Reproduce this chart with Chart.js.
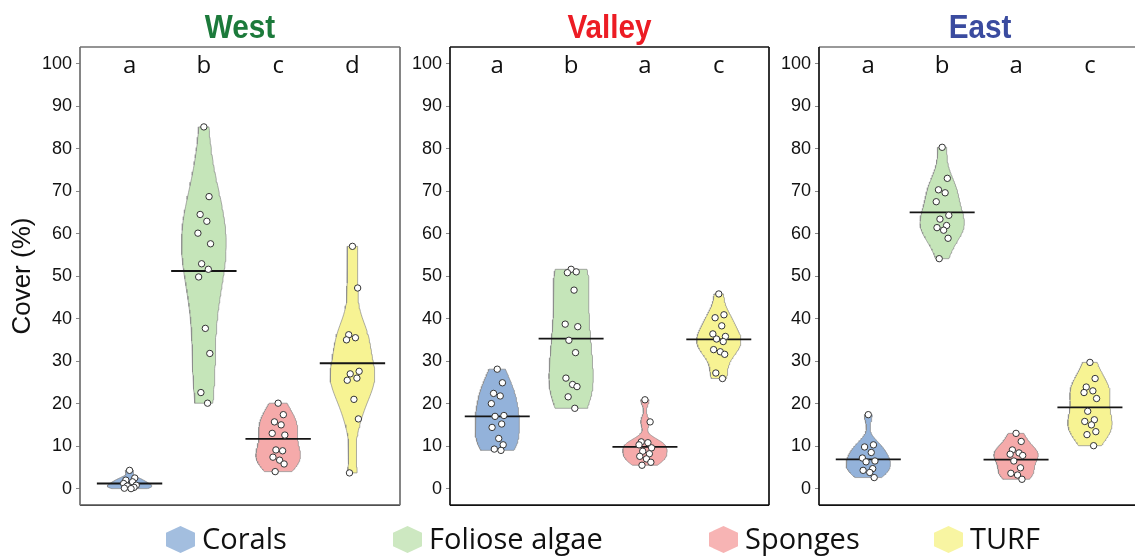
<!DOCTYPE html>
<html><head><meta charset="utf-8">
<script src="https://cdn.jsdelivr.net/npm/chart.js@4/dist/chart.umd.min.js"></script>
<style>
html,body{margin:0;padding:0;background:#fff;overflow:hidden}
#wrap{position:relative;width:1137px;height:559px;overflow:hidden;background:#fff}
canvas{position:absolute;top:0}
.leg{position:absolute;top:523px;font-family:"Open Sans";font-size:29px;line-height:29px;color:#111;white-space:nowrap}
.hex{position:absolute;top:526px;width:29px;height:27px;clip-path:polygon(50% 0,100% 25%,100% 75%,50% 100%,0 75%,0 25%)}
</style></head>
<body><div id="wrap">
<canvas id="c1" width="405" height="520" style="left:0px"></canvas>
<canvas id="c2" width="374" height="520" style="left:400px"></canvas>
<canvas id="c3" width="380" height="520" style="left:760px"></canvas>
<div id="legend"></div>
</div>
<script>
// ---------------- data ----------------
const categories = ['Corals', 'Foliose algae', 'Sponges', 'TURF'];
const regions = ['West', 'Valley', 'East'];
const yTicks = [0, 10, 20, 30, 40, 50, 60, 70, 80, 90, 100];

const westCorals   = [4.3, 2.5, 2.0, 1.6, 1.2, 0.8, 0.6, 0.3, 0.1, 0.0];
const westFoliose  = [85.1, 68.7, 64.5, 62.9, 60.1, 57.6, 52.9, 51.6, 49.8, 37.7, 31.8, 22.6, 20.1];
const westSponges  = [20.1, 17.4, 15.7, 15.0, 13.0, 12.6, 9.1, 8.9, 7.4, 6.7, 5.8, 4.0];
const westTurf     = [57.0, 47.2, 36.2, 35.5, 35.0, 27.6, 27.0, 26.0, 25.5, 21.0, 16.4, 3.7];
const westMeans    = [1.2, 51.2, 11.7, 29.5];
const westLetters  = ['a', 'b', 'c', 'd'];

const valleyCorals  = [28.1, 24.9, 22.4, 21.8, 20.0, 17.2, 17.0, 15.2, 14.4, 11.8, 10.3, 9.3, 9.0];
const valleyFoliose = [51.6, 51.0, 50.8, 46.7, 38.7, 38.1, 34.9, 32.0, 26.0, 24.5, 24.0, 21.6, 18.9];
const valleySponges = [20.9, 15.7, 11.0, 10.8, 10.3, 9.6, 8.8, 8.2, 7.6, 7.0, 6.2, 5.5];
const valleyTurf    = [45.8, 40.9, 40.2, 38.3, 36.4, 35.8, 35.2, 34.6, 32.7, 32.2, 31.6, 27.2, 25.9];
const valleyMeans   = [17.0, 35.3, 9.8, 35.1];
const valleyLetters = ['a', 'b', 'a', 'c'];

const eastCorals  = [17.4, 10.3, 9.8, 8.5, 7.2, 6.5, 6.3, 4.7, 4.3, 3.8, 2.6];
const eastFoliose = [80.3, 73.0, 70.3, 69.6, 67.5, 64.3, 63.4, 61.9, 61.4, 60.8, 58.9, 54.1];
const eastSponges = [13.0, 11.1, 9.1, 8.4, 8.1, 7.8, 6.5, 4.9, 3.6, 3.2, 2.2];
const eastTurf    = [29.7, 25.9, 23.9, 23.0, 22.6, 21.2, 18.2, 16.2, 15.8, 15.0, 13.4, 12.7, 10.1];
const eastMeans   = [6.9, 65.0, 6.8, 19.1];
const eastLetters = ['a', 'b', 'a', 'c'];

// ---------------- styles ----------------
const fillColors = ['#93b2da', '#c5e5b9', '#f5aaaa', '#f7f393'];
const legendColors = ['#a3bedf', '#cde8c1', '#f7b4b4', '#f8f5a2'];
const titleColors = ['#1c7a3b', '#ec1c24', '#3a4b9f'];
const jitter = [0.00, 0.07, -0.05, 0.04, -0.08, 0.09, -0.03, 0.06, -0.07, 0.02, 0.08, -0.04, 0.05, -0.01];

function violinOutline(vals, center) {
  const s = vals.slice().sort((a, b) => a - b);
  const n = s.length;
  const mean = s.reduce((a, b) => a + b, 0) / n;
  const sd = Math.sqrt(s.reduce((a, b) => a + (b - mean) * (b - mean), 0) / (n - 1));
  const q = p => { const h = (n - 1) * p, lo = Math.floor(h), hi = Math.ceil(h); return s[lo] + (h - lo) * (s[hi] - s[lo]); };
  const iqr = q(0.75) - q(0.25);
  let lo = Math.min(sd, iqr / 1.34);
  if (!(lo > 0)) lo = sd || 1;
  const bw = 0.9 * lo * Math.pow(n, -0.2);
  const N = 80, ymin = s[0], ymax = s[n - 1];
  const ys = [], ds = [];
  for (let i = 0; i <= N; i++) {
    const y = ymin + (ymax - ymin) * i / N;
    let d = 0;
    for (const v of s) { const z = (y - v) / bw; d += Math.exp(-0.5 * z * z); }
    ys.push(y); ds.push(d);
  }
  const dmax = Math.max(...ds);
  const pts = [];
  for (let i = 0; i <= N; i++) pts.push({x: center + 0.3 * ds[i] / dmax, y: ys[i]});
  for (let i = N; i >= 0; i--) pts.push({x: center - 0.3 * ds[i] / dmax, y: ys[i]});
  pts.push(pts[0]);
  return pts;
}

const panelPlugin = {
  id: 'panel',
  afterDraw(chart) {
    const o = chart.options.plugins.panel;
    const {ctx, chartArea: a} = chart;
    const y = chart.scales.y, x = chart.scales.x;
    ctx.save();
    // frame
    const sides = [
      ['top', a.left, a.top, a.right, a.top],
      ['bottom', a.left, a.bottom, a.right, a.bottom],
      ['left', a.left, a.top, a.left, a.bottom],
      ['right', a.right, a.top, a.right, a.bottom]
    ];
    for (const [k, x1, y1, x2, y2] of sides) {
      const c = o.frame[k];
      if (!c) continue;
      ctx.strokeStyle = c; ctx.lineWidth = o.frameWidth;
      ctx.beginPath(); ctx.moveTo(x1, y1); ctx.lineTo(x2, y2); ctx.stroke();
    }
    // letters
    ctx.fillStyle = '#111';
    ctx.font = '24px "Open Sans"';
    ctx.textAlign = 'center'; ctx.textBaseline = 'alphabetic';
    o.letters.forEach((L, i) => ctx.fillText(L, x.getPixelForValue(i + 1), y.getPixelForValue(100) + 9));
    // title
    ctx.fillStyle = o.titleColor;
    ctx.font = 'bold 33px "Liberation Sans", Arial, sans-serif';
    const cx = (a.left + a.right) / 2 + o.titleShift;
    ctx.translate(cx, 38); ctx.scale(0.9, 1);
    ctx.fillText(o.title, 0, 0);
    ctx.restore();
  }
};

function makeChart(id, groups, means, letters, region, cfg) {
  const datasets = [];
  groups.forEach((vals, i) => {
    datasets.push({
      type: 'scatter', label: categories[i] + ' points', order: 0,
      data: vals.map((v, j) => ({x: i + 1 + jitter[j % jitter.length], y: v})),
      pointRadius: 3.2, pointBackgroundColor: '#ffffff', pointBorderColor: '#333', pointBorderWidth: 1
    });
  });
  means.forEach((m, i) => {
    datasets.push({
      type: 'line', label: categories[i] + ' mean', order: 1,
      data: [{x: i + 1 - 0.44, y: m}, {x: i + 1 + 0.44, y: m}],
      borderColor: '#151515', borderWidth: 1.8, pointRadius: 0, fill: false
    });
  });
  groups.forEach((vals, i) => {
    datasets.push({
      type: 'line', label: categories[i], order: 2,
      data: violinOutline(vals, i + 1),
      borderColor: '#8a8a8a', borderWidth: 0.7, backgroundColor: fillColors[i],
      pointRadius: 0, fill: 'shape', tension: 0
    });
  });
  return new Chart(document.getElementById(id), {
    type: 'scatter',
    data: {datasets},
    plugins: [panelPlugin],
    options: {
      responsive: false, animation: false, devicePixelRatio: 1,
      layout: {padding: {top: 47, bottom: 5, left: 0, right: cfg.padRight}},
      plugins: {
        legend: {display: false}, tooltip: {enabled: false},
        panel: {frame: cfg.frame, frameWidth: 1.7, letters, title: region, titleColor: cfg.titleColor, titleShift: cfg.titleShift || 0}
      },
      scales: {
        x: {type: 'linear', display: false, min: cfg.xmin, max: cfg.xmax},
        y: {
          type: 'linear', min: -3.9, max: 103.9,
          afterFit: s => { s.width = cfg.axisWidth; },
          afterBuildTicks: s => { s.ticks = yTicks.map(v => ({value: v})); },
          border: {display: false},
          grid: {drawOnChartArea: false, drawTicks: true, tickLength: 4, color: '#888', lineWidth: 1},
          ticks: {padding: 4, color: '#111', font: {family: '"Liberation Sans", Arial, sans-serif', size: 18}},
          title: {display: cfg.showTitle, text: 'Cover (%)', color: '#111',
                  font: {family: '"Liberation Sans", Arial, sans-serif', size: 26}, padding: {top: 7, bottom: 0}}
        }
      }
    }
  });
}

makeChart('c1', [westCorals, westFoliose, westSponges, westTurf], westMeans, westLetters, regions[0], {
  axisWidth: 80, padRight: 2, xmin: 0.333, xmax: 4.64, showTitle: true, titleColor: titleColors[0],
  frame: {top: '#707070', bottom: '#505050', left: '#707070', right: '#707070'}
});
makeChart('c2', [valleyCorals, valleyFoliose, valleySponges, valleyTurf], valleyMeans, valleyLetters, regions[1], {
  axisWidth: 50, padRight: 1, xmin: 0.36, xmax: 4.68, showTitle: false, titleColor: titleColors[1],
  frame: {top: '#111', bottom: '#111', left: '#111', right: '#111'}
});
makeChart('c3', [eastCorals, eastFoliose, eastSponges, eastTurf], eastMeans, eastLetters, regions[2], {
  axisWidth: 59, padRight: 0, xmin: 0.333, xmax: 4.61, showTitle: false, titleColor: titleColors[2], titleShift: 3,
  frame: {top: '#777', bottom: '#111', left: '#111', right: null}
});

// legend
const legX = [166, 393, 709, 934];
const leg = document.getElementById('legend');
categories.forEach((c, i) => {
  const h = document.createElement('div');
  h.className = 'hex'; h.style.left = legX[i] + 'px'; h.style.background = legendColors[i];
  leg.appendChild(h);
  const t = document.createElement('div');
  t.className = 'leg'; t.style.left = (legX[i] + 36) + 'px'; t.textContent = c;
  leg.appendChild(t);
});
</script>
</body></html>
